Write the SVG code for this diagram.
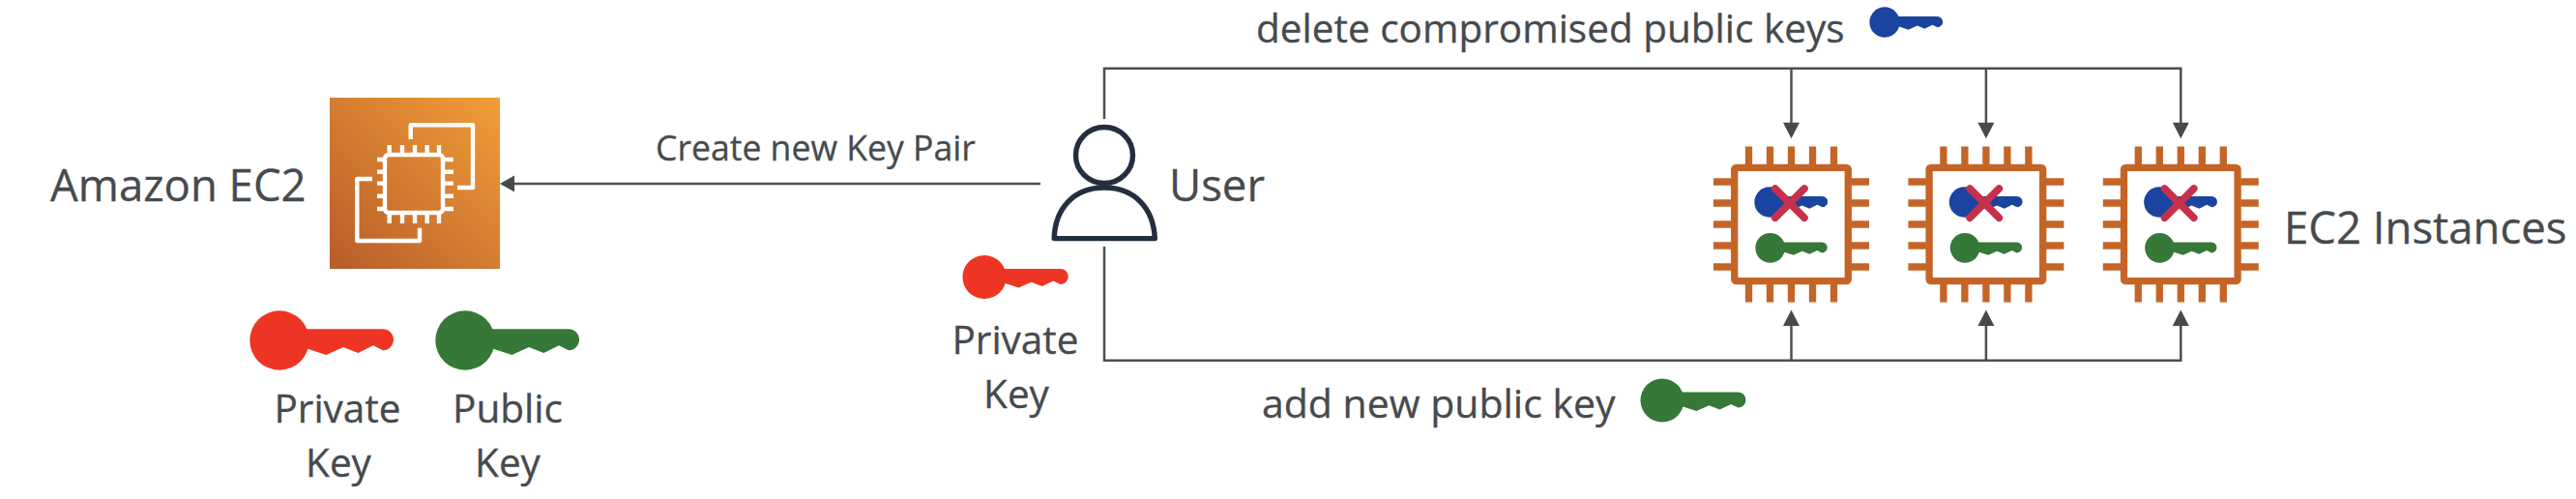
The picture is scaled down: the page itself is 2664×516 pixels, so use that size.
<svg xmlns="http://www.w3.org/2000/svg" width="2664" height="516" viewBox="0 0 2664 516">
<style>
text{font-family:"Open Sans","Noto Sans","Liberation Sans",sans-serif;fill:#464a4d;stroke:#464a4d;stroke-width:.3}
.lg{font-size:45.5px}.md{font-size:40.5px}.lb{font-size:40.5px}.la{font-size:41px}.sm{font-size:35.6px}
.ln{fill:none;stroke:#4b4f52;stroke-width:2.5}
.ar{fill:#454a4c}
.pin{stroke:#c56427;stroke-width:7.3;fill:none}
.w{fill:none;stroke:#fff;stroke-width:4.4;stroke-linejoin:round}
.x{stroke:#c7304a;stroke-width:7.6;stroke-linecap:round;fill:none}
</style>
<defs>
<linearGradient id="g" x1="0" y1="1" x2="1" y2="0"><stop offset="0" stop-color="#b85c2a"/><stop offset="1" stop-color="#f19e38"/></linearGradient>
<symbol id="key" overflow="visible" viewBox="0 0 1 1" width="1" height="1"><g><circle cx="0" cy="0" r="30.7"/><path d="M0-11.7H107A11 11 0 0 1 107 10.3L97 5.3 81.3 13 66 7 48.3 15 29.3 8.7H0Z"/></g></symbol>
<g id="chip">
<rect x="-58.8" y="-58.7" width="117.6" height="117.4" rx="2" fill="#fff" stroke="#c56427" stroke-width="7.3"/>
<path class="pin" d="M-44-80.5V-62M-22-80.5V-62M0-80.5V-62M22-80.5V-62M44-80.5V-62M-44 62V80.5M-22 62V80.5M0 62V80.5M22 62V80.5M44 62V80.5M-80.5-44H-62M-80.5-22H-62M-80.5 0H-62M-80.5 22H-62M-80.5 44H-62M62-44H80.5M62-22H80.5M62 0H80.5M62 22H80.5M62 44H80.5"/>
<use href="#key" transform="translate(-22.5 -23) scale(.51)" fill="#1a44a0"/>
<use href="#key" transform="translate(-21.8 24.3) scale(.5)" fill="#357838"/>
<path class="x" d="M-16.8-37L13.5-6.7M13.5-37L-16.8-6.7"/>
</g>
</defs>

<g id="connectors">
<path class="ln" d="M1076 190H530"/>
<path class="ar" d="M517 190L532 181.5V198.5Z"/>
<path class="ln" d="M1142 123V70.7H2255.3V128M1852.5 70.7V128M2053.9 70.7V128"/>
<path class="ln" d="M1142 255V372.7H2255.3V336M1852.5 372.7V336M2053.9 372.7V336"/>
<path class="ar" d="M1852.5 143.3L1844 126.7H1861ZM2053.9 143.3L2045.4 126.7H2062.4ZM2255.3 143.3L2246.8 126.7H2263.8ZM1852.5 320.5L1844 337H1861ZM2053.9 320.5L2045.4 337H2062.4ZM2255.3 320.5L2246.8 337H2263.8Z"/>
<text class="sm" x="678" y="165.7">Create new Key Pair</text>
<text class="lb" x="1299" y="44.3">delete compromised public keys</text>
<text class="la" x="1305" y="431.7">add new public key</text>
<use href="#key" transform="translate(1949 23) scale(.51)" fill="#1a44a0"/>
<use href="#key" transform="translate(1719 414) scale(.733)" fill="#357838"/>
</g>

<g id="ec2">
<rect x="341" y="101" width="176" height="177" fill="url(#g)"/>
<rect x="398" y="160" width="60" height="60" rx="4" class="w"/>
<path class="w" d="M402.7 150V158M416 150V158M429 150V158M441.7 150V158M454 150V158M402.7 222V231M416 222V231M429 222V231M441.7 222V231M454 222V231M390 165H396M390 177.7H396M390 189.6H396M390 202.7H396M390 216H396M460 165H469M460 177.7H469M460 189.6H469M460 202.7H469M460 216H469"/>
<path class="w" d="M424.7 144V129.3H489V194H473"/>
<path class="w" d="M385 185H369.3V249H434V235.7"/>
<text class="lg" x="52" y="207.7">Amazon EC2</text>
</g>

<g id="private-key-ec2">
<use href="#key" transform="translate(289 352)" fill="#ee3524"/>
<text class="md" x="349" y="437" text-anchor="middle">Private</text>
<text class="md" x="350" y="493" text-anchor="middle">Key</text>
</g>
<g id="public-key-ec2">
<use href="#key" transform="translate(481 352)" fill="#357838"/>
<text class="md" x="525" y="437" text-anchor="middle">Public</text>
<text class="md" x="525" y="493" text-anchor="middle">Key</text>
</g>

<g id="user">
<ellipse cx="1142" cy="160.5" rx="29.5" ry="29" fill="none" stroke="#232f3e" stroke-width="5.4"/>
<path d="M1090.2 246.6C1091 216 1110 194 1142 194C1174 194 1193 216 1194.3 246.6Z" fill="none" stroke="#232f3e" stroke-width="5.4" stroke-linejoin="round"/>
<text class="lg" x="1209" y="208">User</text>
</g>
<g id="private-key-user">
<use href="#key" transform="translate(1018 286.5) scale(.735)" fill="#ee3524"/>
<text class="md" x="1050" y="365.7" text-anchor="middle">Private</text>
<text class="md" x="1051" y="421.7" text-anchor="middle">Key</text>
</g>

<g id="instance-1"><use href="#chip" x="1852.5" y="232"/></g>
<g id="instance-2"><use href="#chip" x="2053.9" y="232"/></g>
<g id="instance-3"><use href="#chip" x="2255.3" y="232"/></g>
<text class="lg" x="2362" y="251.7">EC2 Instances</text>
</svg>
